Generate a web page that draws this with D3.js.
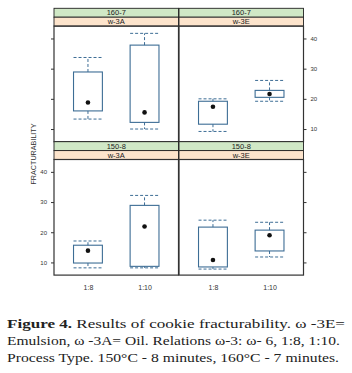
<!DOCTYPE html>
<html><head><meta charset="utf-8">
<script src="https://cdn.jsdelivr.net/npm/d3@7"></script>
<style>
html,body{margin:0;padding:0;background:#fff;}
svg{display:block;}
</style></head>
<body>
<svg id="c" width="352" height="373"></svg>
<script>
// ---- data ----
const categories = ["1:8", "1:10"];
const processRows = ["160-7", "150-8"];
const typeCols = ["w-3A", "w-3E"];
const yTicks = [10, 20, 30, 40];
// each box: [lowerWhisker, q1, median, q3, upperWhisker]
const box_160_7_w3A = [[13.3, 16.0, 18.8, 28.9, 33.7], [10.0, 12.2, 15.5, 37.8, 41.7]];
const box_160_7_w3E = [[9.2, 11.6, 17.4, 19.2, 20.0], [19.2, 20.5, 21.6, 22.8, 26.1]];
const box_150_8_w3A = [[8.2, 9.8, 13.9, 15.7, 17.1], [8.2, 8.7, 21.9, 28.9, 32.2]];
const box_150_8_w3E = [[7.8, 8.5, 10.8, 21.7, 24.0], [11.8, 13.8, 19.0, 20.7, 23.3]];
const captionLines = [
  ["Figure 4.", " Results of cookie fracturability. \u03c9 -3E="],
  ["", "Emulsion, \u03c9 -3A= Oil. Relations \u03c9-3: \u03c9- 6, 1:8, 1:10."],
  ["", "Process Type. 150\u00b0C - 8 minutes, 160\u00b0C - 7 minutes."]
];

const panels = [
  {row: 0, col: 0, boxes: box_160_7_w3A},
  {row: 0, col: 1, boxes: box_160_7_w3E},
  {row: 1, col: 0, boxes: box_150_8_w3A},
  {row: 1, col: 1, boxes: box_150_8_w3E}
];

// ---- layout ----
const svg = d3.select("#c");
const colX = [54, 179], panelW = 124.5;
const top0 = 8.3, stripH = 8.9, panelH = 115.6, blockH = stripH * 2 + panelH;
const boxCol = "#3d6d95";
const green = "#d0e8c6", orange = "#fde4cc";
const sans = "Liberation Sans, Arial, sans-serif";

const x = d3.scaleLinear().domain([0.4, 2.6]);
const boxHalf = 0.255;

panels.forEach(p => {
  const px = colX[p.col];
  const by = top0 + p.row * blockH;
  const py = by + stripH * 2;
  const g = svg.append("g");
  const xs = x.copy().range([px, px + panelW]);
  const ys = d3.scaleLinear().domain([5.8, 44.1]).range([py + panelH, py]);

  // strips
  g.append("rect").attr("x", px).attr("y", by).attr("width", panelW).attr("height", stripH)
    .attr("fill", green).attr("stroke", "#222").attr("stroke-width", 0.9);
  g.append("rect").attr("x", px).attr("y", by + stripH).attr("width", panelW).attr("height", stripH)
    .attr("fill", orange).attr("stroke", "#222").attr("stroke-width", 0.9);
  g.append("text").attr("x", px + panelW / 2).attr("y", by + stripH - 1.8)
    .attr("text-anchor", "middle").attr("font-family", sans).attr("font-size", 7.5)
    .attr("fill", "#222").text(processRows[p.row]);
  g.append("text").attr("x", px + panelW / 2).attr("y", by + stripH * 2 - 1.8)
    .attr("text-anchor", "middle").attr("font-family", sans).attr("font-size", 7.5)
    .attr("fill", "#222").text(typeCols[p.col]);

  // boxes
  p.boxes.forEach((b, i) => {
    const cx = xs(i + 1);
    const x0 = xs(i + 1 - boxHalf), x1 = xs(i + 1 + boxHalf);
    const [lw, q1, md, q3, uw] = b;
    const dash = "3,2";
    g.append("line").attr("x1", cx).attr("x2", cx).attr("y1", ys(q3)).attr("y2", ys(uw))
      .attr("stroke", boxCol).attr("stroke-width", 1).attr("stroke-dasharray", dash);
    g.append("line").attr("x1", cx).attr("x2", cx).attr("y1", ys(q1)).attr("y2", ys(lw))
      .attr("stroke", boxCol).attr("stroke-width", 1).attr("stroke-dasharray", dash);
    g.append("line").attr("x1", x0).attr("x2", x1).attr("y1", ys(uw)).attr("y2", ys(uw))
      .attr("stroke", boxCol).attr("stroke-width", 1).attr("stroke-dasharray", dash);
    g.append("line").attr("x1", x0).attr("x2", x1).attr("y1", ys(lw)).attr("y2", ys(lw))
      .attr("stroke", boxCol).attr("stroke-width", 1).attr("stroke-dasharray", dash);
    g.append("rect").attr("x", x0).attr("y", ys(q3)).attr("width", x1 - x0)
      .attr("height", ys(q1) - ys(q3)).attr("fill", "none").attr("stroke", boxCol).attr("stroke-width", 1.1);
    g.append("circle").attr("cx", cx).attr("cy", ys(md)).attr("r", 2.3).attr("fill", "#111");
  });

  // panel border
  g.append("rect").attr("x", px).attr("y", py).attr("width", panelW).attr("height", panelH)
    .attr("fill", "none").attr("stroke", "#333").attr("stroke-width", 1.2);

  // y axes
  const fmt = d3.format("d");
  if (p.col === 0) {
    const ax = d3.axisLeft(ys).tickValues(yTicks).tickSize(3).tickPadding(4)
      .tickFormat(p.row === 1 ? fmt : () => "");
    const ag = g.append("g").attr("transform", `translate(${px},0)`).call(ax);
    ag.select(".domain").remove();
    ag.selectAll("line").attr("stroke", "#333");
    ag.selectAll("text").attr("font-family", sans).attr("font-size", 6).attr("fill", "#333");
  } else {
    const ax = d3.axisRight(ys).tickValues(yTicks).tickSize(3).tickPadding(4)
      .tickFormat(p.row === 0 ? fmt : () => "");
    const ag = g.append("g").attr("transform", `translate(${px + panelW},0)`).call(ax);
    ag.select(".domain").remove();
    ag.selectAll("line").attr("stroke", "#333");
    ag.selectAll("text").attr("font-family", sans).attr("font-size", 6).attr("fill", "#333");
  }

  // x labels on bottom row
  if (p.row === 1) {
    const ax = d3.axisBottom(d3.scalePoint().domain(categories).range([xs(1), xs(2)]))
      .tickSize(0).tickPadding(10);
    const ag = g.append("g").attr("transform", `translate(0,${py + panelH})`).call(ax);
    ag.select(".domain").remove();
    ag.selectAll("text").attr("font-family", sans).attr("font-size", 7).attr("fill", "#333");
  }
});

// y-axis title
svg.append("text").attr("transform", "translate(35.5,154) rotate(-90)")
  .attr("text-anchor", "middle").attr("font-family", sans).attr("font-size", 7.2)
  .attr("fill", "#333").text("FRACTURABILITY");

// caption
const capY = [328, 345, 361.5];
const capW = [338, 333, 332];
captionLines.forEach((ln, i) => {
  const t = svg.append("text").attr("x", 7).attr("y", capY[i])
    .attr("font-family", "Liberation Serif, 'Times New Roman', serif").attr("font-size", 13.5)
    .attr("fill", "#222").attr("textLength", capW[i]).attr("lengthAdjust", "spacingAndGlyphs");
  if (ln[0]) t.append("tspan").attr("font-weight", "bold").text(ln[0]);
  t.append("tspan").text(ln[1]);
});
</script>
</body></html>
